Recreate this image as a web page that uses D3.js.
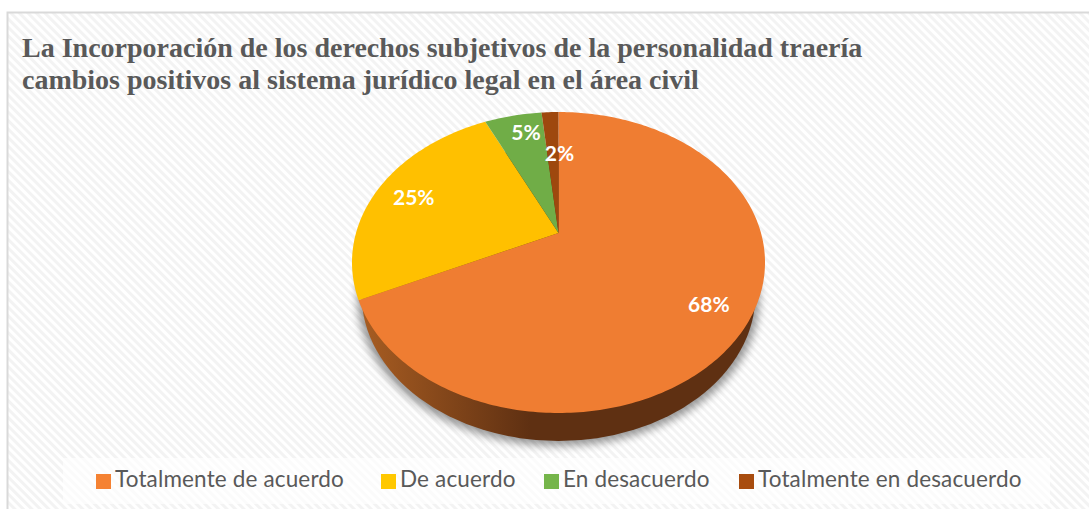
<!DOCTYPE html>
<html>
<head>
<meta charset="utf-8">
<script src="https://cdn.jsdelivr.net/npm/d3@7"></script>
<style>
html, body { margin: 0; padding: 0; background: #fff; overflow: hidden; }
svg { display: block; }
</style>
</head>
<body>
<div id="chart"></div>
<script>
var categories = ["Totalmente de acuerdo", "De acuerdo", "En desacuerdo", "Totalmente en desacuerdo"];
var values = [0.68, 0.25, 0.054, 0.016];
var colors = ["#ef7d32", "#ffc000", "#70ad47", "#9e480e"];
var legendColors = ["#f58233", "#ffc800", "#75b54a", "#a84c0e"];
var titleLines = ["La Incorporación de los derechos subjetivos de la personalidad traería",
    "cambios positivos al sistema jurídico legal en el área civil"];

var width = 1089, height = 509;
var formatPercent = d3.format(".0%");

var svg = d3.select("#chart")
    .append("svg")
    .attr("width", width)
    .attr("height", height);

var defs = svg.append("defs");

var stripes = defs.append("pattern")
    .attr("id", "stripes")
    .attr("patternUnits", "userSpaceOnUse")
    .attr("width", 6)
    .attr("height", 6)
    .attr("patternTransform", "rotate(45)");
stripes.append("rect").attr("width", 6).attr("height", 6).attr("fill", "#ffffff");
stripes.append("rect").attr("width", 6).attr("height", 3).attr("fill", "#f3f3f3");

var sideGrad = defs.append("linearGradient")
    .attr("id", "sideGrad")
    .attr("gradientUnits", "userSpaceOnUse")
    .attr("x1", 360).attr("x2", 530).attr("y1", 0).attr("y2", 0);
sideGrad.append("stop").attr("offset", "0%").attr("stop-color", "#a85d22");
sideGrad.append("stop").attr("offset", "100%").attr("stop-color", "#5f3012");

defs.append("filter")
    .attr("id", "blur")
    .attr("x", "-10%").attr("y", "-10%").attr("width", "120%").attr("height", "120%")
    .append("feGaussianBlur")
    .attr("stdDeviation", 4);

// chart area
svg.append("rect")
    .attr("x", 7.5).attr("y", 12.5)
    .attr("width", width).attr("height", height)
    .attr("fill", "url(#stripes)")
    .attr("stroke", "#d9d9d9")
    .attr("stroke-width", 2);

svg.selectAll(".title")
    .data(titleLines)
    .enter().append("text")
    .attr("class", "title")
    .attr("x", 22)
    .attr("y", (d, i) => 57 + i * 32)
    .attr("font-family", "'Liberation Serif'")
    .attr("font-weight", "bold")
    .attr("font-size", 28)
    .attr("fill", "#595959")
    .text(d => d);

// pie lies on a tilted plane, so the apex is not at the ellipse centre
var cx = 558.5, cy = 233, persp = -0.196, rx = 202.5, ry = 144.7;

function project(angle, r) {
    var px = Math.sin(angle) * r, py = -Math.cos(angle) * r;
    var w = 1 + persp * py;
    return [cx + rx * px / w, cy + ry * py / w];
}

var pie = d3.pie().sort(null);
var slices = pie(values);
var line = d3.line();

function slicePath(d) {
    var n = Math.max(4, Math.ceil((d.endAngle - d.startAngle) * 60));
    var pts = [[cx, cy]];
    d3.range(n + 1).forEach(i => {
        pts.push(project(d.startAngle + (d.endAngle - d.startAngle) * i / n, 1));
    });
    return line(pts) + "Z";
}

// rim under the top face
var rimCy = 294, rimRx = 197, rimRy = 147;

svg.append("ellipse")
    .attr("cx", cx).attr("cy", rimCy + 4)
    .attr("rx", rimRx + 4).attr("ry", rimRy + 1)
    .attr("fill", "#000")
    .attr("opacity", 0.4)
    .attr("filter", "url(#blur)");

svg.append("ellipse")
    .attr("cx", cx).attr("cy", rimCy)
    .attr("rx", rimRx).attr("ry", rimRy)
    .attr("fill", "url(#sideGrad)");

svg.selectAll(".slice")
    .data(slices)
    .enter().append("path")
    .attr("class", "slice")
    .attr("d", slicePath)
    .attr("fill", (d, i) => colors[i]);

// best-fit label shifts
var labelShift = [[1, 4], [0, 2], [5, -3], [8, 21]];

svg.selectAll(".label")
    .data(slices)
    .enter().append("text")
    .attr("class", "label")
    .attr("x", (d, i) => project((d.startAngle + d.endAngle) / 2, 0.8)[0] + labelShift[i][0])
    .attr("y", (d, i) => project((d.startAngle + d.endAngle) / 2, 0.8)[1] + labelShift[i][1])
    .attr("dy", "0.35em")
    .attr("text-anchor", "middle")
    .attr("font-family", "Lato")
    .attr("font-weight", "bold")
    .attr("font-size", 21)
    .attr("fill", "#fff")
    .text(d => formatPercent(d.data));

// legend
svg.append("rect")
    .attr("x", 63).attr("y", 458)
    .attr("width", 987).attr("height", 46)
    .attr("fill", "#fff")
    .attr("opacity", 0.65);

var legendX = [96, 381, 544, 739];

var legend = svg.selectAll(".legend")
    .data(categories)
    .enter().append("g")
    .attr("class", "legend")
    .attr("transform", (d, i) => "translate(" + legendX[i] + ",474)");

legend.append("rect")
    .attr("width", 15).attr("height", 15)
    .attr("fill", (d, i) => legendColors[i]);

legend.append("text")
    .attr("x", 19)
    .attr("y", 13)
    .attr("font-family", "Lato")
    .attr("font-size", 22.5)
    .attr("letter-spacing", 0.15)
    .attr("fill", "#595959")
    .text(d => d);
</script>
</body>
</html>
